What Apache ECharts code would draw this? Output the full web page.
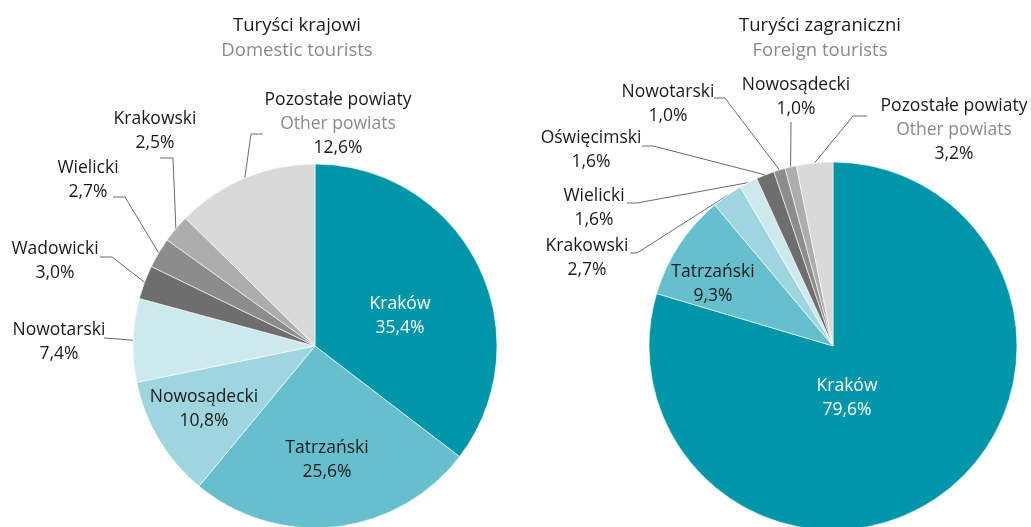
<!DOCTYPE html>
<html>
<head>
<meta charset="utf-8">
<script src="https://cdn.jsdelivr.net/npm/echarts@6/dist/echarts.min.js"></script>
<style>
html,body{margin:0;padding:0;background:#fff;}
#c{width:1031px;height:527px;}
</style>
</head>
<body>
<div id="c"></div>
<script>
// ---- data ----
const domesticNames = ['Kraków', 'Tatrzański', 'Nowosądecki', 'Nowotarski', 'Wadowicki', 'Wielicki', 'Krakowski', 'Pozostałe powiaty'];
const domesticValues = [35.4, 25.6, 10.8, 7.4, 3.0, 2.7, 2.5, 12.6];
const foreignNames = ['Kraków', 'Tatrzański', 'Krakowski', 'Wielicki', 'Oświęcimski', 'Nowotarski', 'Nowosądecki', 'Pozostałe powiaty'];
const foreignValues = [79.6, 9.3, 2.7, 1.6, 1.6, 1.0, 1.0, 3.2];
const otherLabelEn = 'Other powiats';
const titlesPl = ['Turyści krajowi', 'Turyści zagraniczni'];
const titlesEn = ['Domestic tourists', 'Foreign tourists'];

// ---- styles / layout ----
const sliceColors = ['#0096aa', '#66bfcd', '#9fd5de', '#cde9ee', '#6e6e6e', '#8c8c8c', '#adadad', '#d9d9d9'];
const FONT = 'Open Sans';
const FS = 17.5;
const insideIdx = [[0, 1, 2], [0, 1]];
const whiteLabel = 0;

// label placement (text centre) and leader-line bends
const layoutDomestic = [
  {x: 400, y: 316},
  {x: 327, y: 460},
  {x: 204, y: 409},
  {x: 59, y: 342, line: [[118, 339], [104, 338]]},
  {x: 55, y: 261, line: [[112, 257], [100, 257]]},
  {x: 88, y: 180, line: [[125, 197], [113, 197]]},
  {x: 155, y: 131, line: [[173, 158], [160, 158]]},
  {x: 338, y: 124, line: [[251, 134], [263, 134]]}
];
const layoutForeign = [
  {x: 847, y: 398},
  {x: 713, y: 284},
  {x: 587, y: 258, line: [[637, 253], [630, 253]]},
  {x: 594, y: 208, line: [[637, 203], [627, 203]]},
  {x: 591, y: 150, line: [[653, 146], [642, 146]]},
  {x: 668, y: 104, line: [[725, 98], [714, 98]]},
  {x: 796, y: 97, line: [[791, 122]]},
  {x: 954, y: 130, line: [[853, 116], [867, 116]]}
];

function pct(v) { return v.toFixed(1).replace('.', ',') + '%'; }

function buildData(names, values, inside) {
  return names.map(function (n, i) {
    const isIn = inside.indexOf(i) >= 0;
    return {
      name: n,
      value: values[i],
      itemStyle: {color: sliceColors[i]},
      label: {
        position: isIn ? 'inside' : 'outside',
        color: (isIn && i === whiteLabel) ? '#ffffff' : '#1a1a1a'
      },
      labelLine: {show: !isIn}
    };
  });
}

function fmt(p) {
  if (p.name === 'Pozostałe powiaty') {
    return '{a|' + p.name + '}\n{g|' + otherLabelEn + '}\n{a|' + pct(p.value) + '}';
  }
  return p.name + '\n' + pct(p.value);
}

function makeLayout(table) {
  return function (p) {
    const L = table[p.dataIndex];
    const o = {x: L.x, y: L.y, align: 'center', verticalAlign: 'middle', hideOverlap: false, moveOverlap: null};
    if (L.line && p.labelLinePoints && p.labelLinePoints.length) {
      o.labelLinePoints = [p.labelLinePoints[0]].concat(L.line);
    }
    return o;
  };
}

function series(names, values, inside, center, radius, table) {
  return {
    type: 'pie',
    center: center,
    radius: radius,
    startAngle: 90,
    clockwise: true,
    avoidLabelOverlap: false,
    silent: true,
    animation: false,
    itemStyle: {borderColor: '#ffffff', borderWidth: 0.6},
    label: {
      show: true,
      formatter: fmt,
      fontFamily: FONT,
      fontSize: FS,
      lineHeight: 24,
      align: 'center',
      rich: {
        a: {fontFamily: FONT, fontSize: FS, lineHeight: 24, color: '#1a1a1a'},
        g: {fontFamily: FONT, fontSize: FS, lineHeight: 24, color: '#8a8a8a'}
      }
    },
    labelLine: {show: true, lineStyle: {color: '#6a6a6a', width: 1}},
    labelLayout: makeLayout(table),
    data: buildData(names, values, inside)
  };
}

const chart = echarts.init(document.getElementById('c'), null, {renderer: 'canvas'});
chart.setOption({
  backgroundColor: '#ffffff',
  animation: false,
  title: [
    {text: titlesPl[0], subtext: titlesEn[0], left: 292, top: 11, textAlign: 'center', itemGap: 6,
      textStyle: {fontFamily: FONT, fontSize: 18.5, fontWeight: 'normal', color: '#1a1a1a'},
      subtextStyle: {fontFamily: FONT, fontSize: 18.5, color: '#8a8a8a'}},
    {text: titlesPl[1], subtext: titlesEn[1], left: 815, top: 11, textAlign: 'center', itemGap: 6,
      textStyle: {fontFamily: FONT, fontSize: 18.5, fontWeight: 'normal', color: '#1a1a1a'},
      subtextStyle: {fontFamily: FONT, fontSize: 18.5, color: '#8a8a8a'}}
  ],
  series: [
    series(domesticNames, domesticValues, insideIdx[0], [315, 346], 182, layoutDomestic),
    series(foreignNames, foreignValues, insideIdx[1], [833, 346], 184, layoutForeign)
  ]
});
</script>
</body>
</html>
